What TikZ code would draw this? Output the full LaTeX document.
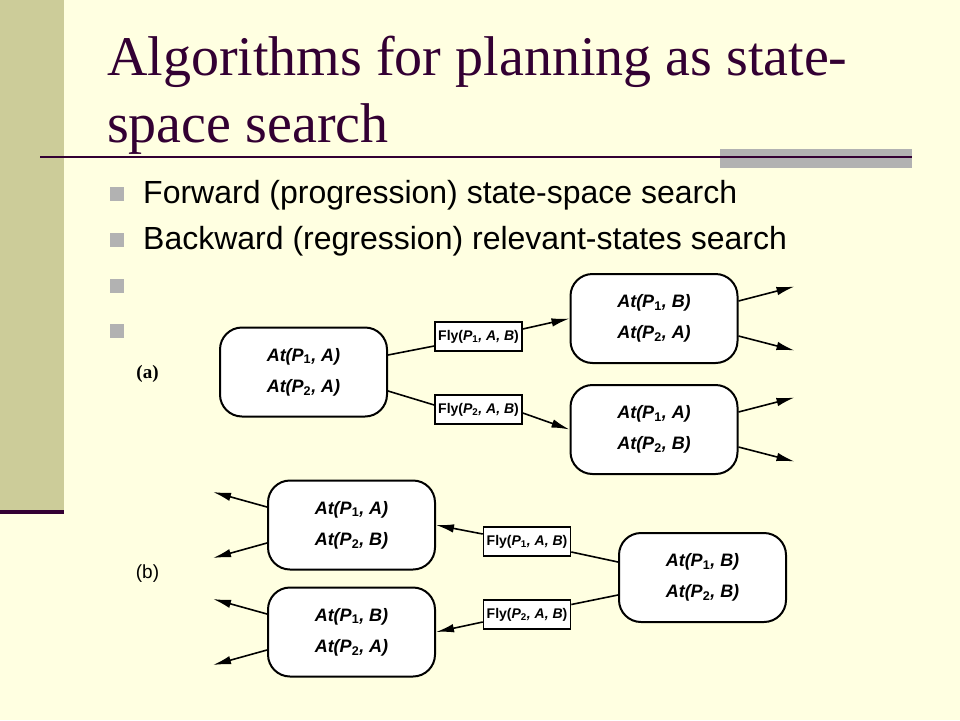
\documentclass[tikz,border=0pt]{standalone}
\usepackage{fontspec}
\setmainfont{Liberation Serif}
\setsansfont{Liberation Sans}
\usetikzlibrary{arrows.meta,positioning}

\definecolor{slidebg}{RGB}{255,255,225}
\definecolor{sidebar}{RGB}{204,204,153}
\definecolor{titlepurple}{RGB}{51,0,51}
\definecolor{bargray}{RGB}{178,178,178}

\newcommand{\atom}[2]{{\itshape At(P\textsubscript{\upshape #1}, #2)}}
\newcommand{\fly}[1]{Fly({\itshape P\textsubscript{\upshape #1}, A, B})}

\tikzset{
  state/.style={draw, line width=2pt, fill=white, rounded corners=22pt,
    minimum width=167pt, minimum height=89pt, inner sep=0pt, align=center,
    font=\sffamily\bfseries\fontsize{18}{31}\selectfont},
  action/.style={draw, line width=1.6pt, fill=white, minimum width=87pt,
    minimum height=29pt, inner sep=0pt, font=\sffamily\bfseries\fontsize{14}{16}\selectfont},
  link/.style={line width=1.6pt},
  bullet/.style={fill=bargray, minimum size=14pt, inner sep=0pt},
  item/.style={anchor=base west, inner sep=0pt, font=\sffamily\fontsize{32}{36}\selectfont},
  tag/.style={inner sep=0pt},
}

\begin{document}
\begin{tikzpicture}[x=1pt,y=-1pt,>={Latex[length=18pt,width=8.5pt]}]
\useasboundingbox[fill=slidebg] (0,0) rectangle (960,720);
% slide frame
\fill[sidebar] (0,0) rectangle (64,510);
\fill[titlepurple] (0,510) rectangle (64,514);
\fill[bargray] (720,149) rectangle (912,168);
\draw[titlepurple, line width=2.5pt] (40,157) -- (912,157);

\node[anchor=base west, inner sep=0pt, text=titlepurple, font=\fontsize{56}{67}\selectfont]
  (title) at (107,75) {Algorithms for planning as state-};
\node[anchor=base west, inner sep=0pt, text=titlepurple, font=\fontsize{56}{67}\selectfont]
  (title2) at (107,142) {space search};

% bullets
\foreach \y [count=\i] in {193.5,239.5,285.5,331}
  \node[bullet] (b\i) at (116.5,\y) {};
\node[item] (t1) at (143,203) {Forward (progression) state-space search};
\node[item] (t2) at (143,249) {Backward (regression) relevant-states search};

% (a) progression
\node[state]  (rootA) at (303.5,372)   {\atom{1}{A}\\\atom{2}{A}};
\node[action] (flyA1) at (478.5,336.5) {\fly{1}};
\node[action] (flyA2) at (478.5,409.5) {\fly{2}};
\node[state]  (sA1)   at (654,318.5)   {\atom{1}{B}\\\atom{2}{A}};
\node[state]  (sA2)   [below=20pt of sA1] {\atom{1}{A}\\\atom{2}{B}};
\node[tag, font=\bfseries\fontsize{19}{22}\selectfont] (labA) at (147.5,374) {(a)};

\draw[link]    ([yshift=17pt]rootA.east) -- ([yshift=-9.5pt]flyA1.west);
\draw[link,->] ([yshift=7.5pt]flyA1.east) -- (sA1.west);
\draw[link]    ([yshift=-19pt]rootA.east) -- ([yshift=4.5pt]flyA2.west);
\draw[link,->] ([yshift=-3.5pt]flyA2.east) -- (sA2.west);
\foreach \s in {sA1,sA2} {
  \draw[link,->] ([yshift=17.5pt]\s.east) -- ([shift={(56pt,32pt)}]\s.east);
  \draw[link,->] ([yshift=-17.5pt]\s.east) -- ([shift={(56pt,-32pt)}]\s.east);
}

% (b) regression
\node[state]  (goalB) at (702.5,577.5) {\atom{1}{B}\\\atom{2}{B}};
\node[action] (flyB1) at (527,541.5)   {\fly{1}};
\node[action] (flyB2) at (527,614.5)   {\fly{2}};
\node[state]  (sB1)   at (351.5,525)   {\atom{1}{A}\\\atom{2}{B}};
\node[state]  (sB2)   [below=16pt of sB1] {\atom{1}{B}\\\atom{2}{A}};
\node[tag, font=\sffamily\fontsize{19}{22}\selectfont] (labB) at (147.5,574) {(b)};

\draw[link]    ([yshift=15.5pt]goalB.west) -- ([yshift=-10.5pt]flyB1.east);
\draw[link,->] ([yshift=7.5pt]flyB1.west) -- (sB1.east);
\draw[link]    ([yshift=-17.5pt]goalB.west) -- ([yshift=10pt]flyB2.east);
\draw[link,->] ([yshift=-7.5pt]flyB2.west) -- (sB2.east);
\foreach \s in {sB1,sB2} {
  \draw[link,->] ([yshift=18pt]\s.west) -- ([shift={(-54pt,33pt)}]\s.west);
  \draw[link,->] ([yshift=-18pt]\s.west) -- ([shift={(-54pt,-33pt)}]\s.west);
}
\end{tikzpicture}
\end{document}
